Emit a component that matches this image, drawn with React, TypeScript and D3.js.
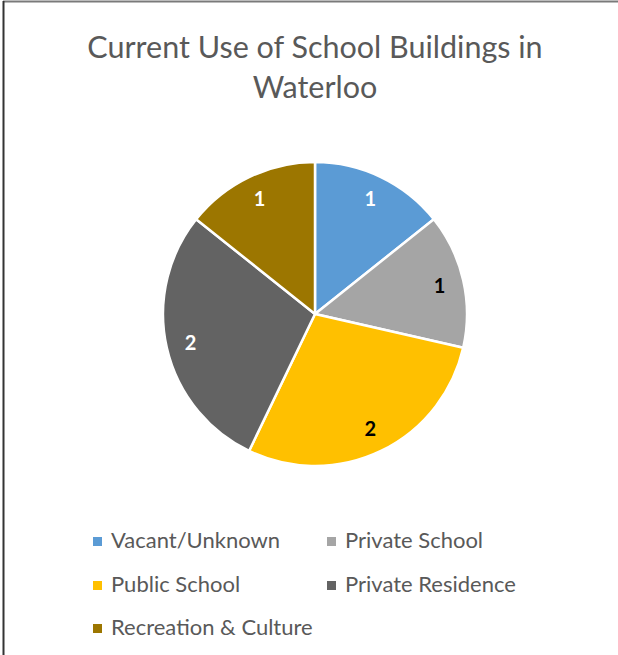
import React from "react";
import * as d3 from "d3";

const categories = ["Vacant/Unknown", "Private School", "Public School", "Private Residence", "Recreation & Culture"];
const values = [1, 1, 2, 2, 1];
const colors = ["#5B9BD5", "#A5A5A5", "#FFC000", "#636363", "#9C7600"];
const labelColors = ["#FFFFFF", "#000000", "#000000", "#FFFFFF", "#FFFFFF"];
const titleLines = ["Current Use of School Buildings in", "Waterloo"];

const W = 618;
const H = 655;
const cx = 315;
const cy = 314;
const R = 152;

export default function App() {
  const pie = d3.pie<number>().sort(null).value((d) => d);
  const arcs = pie(values);
  const arcGen = d3.arc<d3.PieArcDatum<number>>().innerRadius(0).outerRadius(R);
  const labelArc = d3.arc<d3.PieArcDatum<number>>().innerRadius(R * 0.84).outerRadius(R * 0.84);

  const legendCols = [93, 327];
  const legendRows = [548, 592, 635];

  return (
    <svg width={W} height={H} style={{ position: "absolute", left: 0, top: 0, background: "#fff" }}>
      <rect x={0} y={0} width={W} height={H} fill="#fff" />
      <line x1={3} x2={W} y1={1.5} y2={1.5} stroke="#7a7a7a" strokeWidth={2} />
      <line x1={3.5} x2={3.5} y1={1} y2={H} stroke="#333" strokeWidth={2} />
      {titleLines.map((t, i) => (
        <text key={i} x={315} y={58 + i * 40} textAnchor="middle" fontFamily="Lato, 'Open Sans', sans-serif" fontSize={30.5} fill="#595959">
          {t}
        </text>
      ))}
      <g transform={`translate(${cx},${cy})`}>
        {arcs.map((a, i) => (
          <path key={i} d={arcGen(a) || ""} fill={colors[i]} stroke="#fff" strokeWidth={2.5} strokeLinejoin="round" />
        ))}
        {arcs.map((a, i) => {
          const [x, y] = labelArc.centroid(a);
          return (
            <text key={i} x={x} y={y} dy="0.36em" textAnchor="middle" fontFamily="Lato, sans-serif" fontWeight="bold" fontSize={20} fill={labelColors[i]}>
              {values[i]}
            </text>
          );
        })}
      </g>
      {categories.map((c, i) => {
        const x = legendCols[i % 2];
        const y = legendRows[Math.floor(i / 2)];
        return (
          <g key={c}>
            <rect x={x} y={y - 11} width={9} height={9} fill={colors[i]} />
            <text x={x + 18} y={y} fontFamily="Lato, sans-serif" fontSize={22} fill="#595959">
              {c}
            </text>
          </g>
        );
      })}
    </svg>
  );
}
